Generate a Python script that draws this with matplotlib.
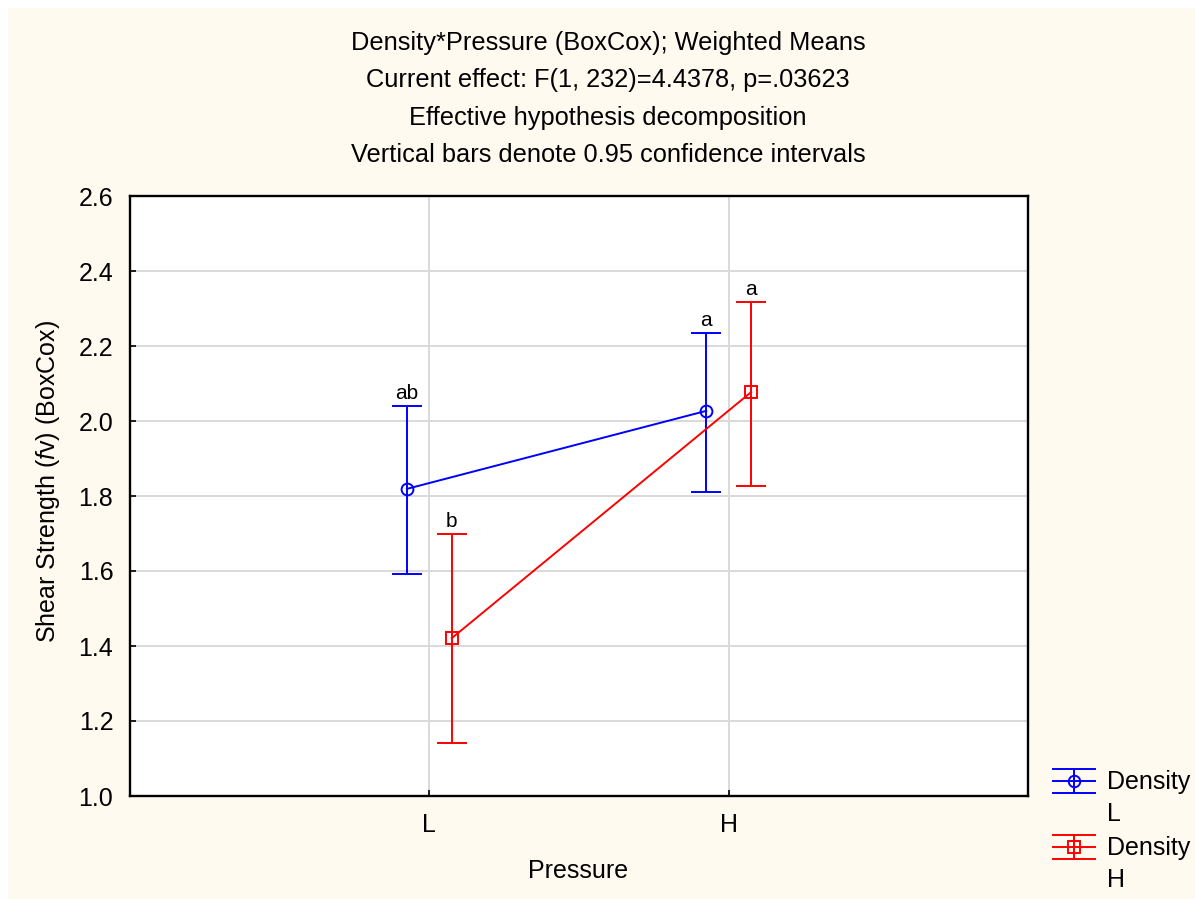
import matplotlib.pyplot as plt
import numpy as np
from matplotlib.patches import Rectangle
from matplotlib.lines import Line2D
from matplotlib.legend_handler import HandlerBase

pressure = ['L', 'H']
means_L = [1.819, 2.027]
upper_L = [2.040, 2.235]
lower_L = [1.592, 1.811]
means_H = [1.421, 2.077]
upper_H = [1.699, 2.317]
lower_H = [1.141, 1.827]
letters_L = ['ab', 'a']
letters_H = ['b', 'a']

title_lines = ['Density*Pressure (BoxCox); Weighted Means',
               'Current effect: F(1, 232)=4.4378, p=.03623',
               'Effective hypothesis decomposition',
               'Vertical bars denote 0.95 confidence intervals']

plt.rcParams['font.family'] = ['Liberation Sans', 'DejaVu Sans']
plt.rcParams['font.size'] = 18
plt.rcParams['mathtext.fontset'] = 'custom'
plt.rcParams['mathtext.it'] = 'Liberation Sans:italic'
plt.rcParams['mathtext.rm'] = 'Liberation Sans'


class ErrHandler(HandlerBase):
    # horizontal line + full-width caps + vertical bar + marker, aligned to first text line
    def __init__(self, color, marker, shift):
        super().__init__()
        self.color, self.marker, self.shift = color, marker, shift

    def create_artists(self, legend, orig_handle, xdescent, ydescent, width,
                       height, fontsize, trans):
        cy = height / 2 - ydescent + self.shift
        x0, x1 = -xdescent, -xdescent + width
        xm = (x0 + x1) / 2
        h = 8.6
        kw = dict(color=self.color, lw=1.4, transform=trans)
        arts = [Line2D([x0, x1], [cy, cy], **kw),
                Line2D([x0, x1], [cy + h, cy + h], **kw),
                Line2D([x0, x1], [cy - h, cy - h], **kw),
                Line2D([xm, xm], [cy - h, cy + h], **kw),
                Line2D([xm], [cy], marker=self.marker, mfc='none', mec=self.color,
                       ms=8.3, mew=1.4, transform=trans)]
        return arts


bg = '#FFFAF0'
fig = plt.figure(figsize=(11.95, 8.99), dpi=100, facecolor='white')
fig.patches.append(Rectangle((8 / 1195, 0), 1 - 8 / 1195, 1 - 8 / 899,
                             transform=fig.transFigure, facecolor=bg,
                             edgecolor='none', zorder=-10))
ax = fig.add_axes([130 / 1195, 1 - 796 / 899, 898 / 1195, 600 / 899])
ax.set_facecolor('white')

x = np.arange(len(pressure))
off = 0.075
series = [
    (means_L, upper_L, lower_L, letters_L, 'blue', 'o', -off, 'Density\nL'),
    (means_H, upper_H, lower_H, letters_H, 'red', 's', off, 'Density\nH'),
]
handles = []
for m, up, lo, lets, c, mk, dx, lab in series:
    m = np.array(m)
    yerr = [m - np.array(lo), np.array(up) - m]
    eb = ax.errorbar(x + dx, m, yerr=yerr, color=c, marker=mk, mfc='none', mec=c,
                     ms=8.5 if mk == 'o' else 8, mew=1.4, lw=1.4, elinewidth=1.4,
                     capsize=10.5, capthick=1.4, label=lab, zorder=3)
    handles.append(eb)
    for xi, u, t in zip(x + dx, up, lets):
        ax.annotate(t, (xi, u), xytext=(0, 2), textcoords='offset points',
                    ha='center', va='bottom', fontsize=15)

ax.set_xlim(-1, 2)
ax.set_ylim(1.0, 2.6)
ax.set_xticks(x)
ax.set_xticklabels(pressure)
yt = np.arange(1.0, 2.61, 0.2)
ax.set_yticks(yt)
ax.set_yticklabels(['%.1f' % v for v in yt])
ax.grid(True, color='#D9D9D9', lw=1.4, zorder=0)
ax.set_axisbelow(True)
ax.tick_params(direction='in', length=4, width=1.2, labelsize=18, pad=12)
for s in ax.spines.values():
    s.set_linewidth(1.7)

fig.text(578 / 1195, 1 - 871 / 899, 'Pressure', ha='center', va='center', fontsize=18)
fig.text(48 / 1195, 1 - 482 / 899, 'Shear Strength ($f$v) (BoxCox)', rotation=90,
         ha='center', va='center', fontsize=18)

for i, t in enumerate(title_lines):
    fig.text(608 / 1195, 1 - (43 + i * 37.5) / 899, t, ha='center', va='center',
             fontsize=18.3)

leg = ax.legend(handles=handles, labels=['Density\nL', 'Density\nH'],
                handler_map={handles[0]: ErrHandler('blue', 'o', 12.8),
                             handles[1]: ErrHandler('red', 's', 12.8)},
                loc='upper left', bbox_to_anchor=((1053 - 130) / 898, 0.043),
                frameon=False, handlelength=1.67, handletextpad=0.5,
                labelspacing=0.41, borderaxespad=0, borderpad=0, fontsize=18)
for t in leg.get_texts():
    t.set_linespacing(1.42)

fig.savefig('out.png', dpi=100, facecolor=fig.get_facecolor())
